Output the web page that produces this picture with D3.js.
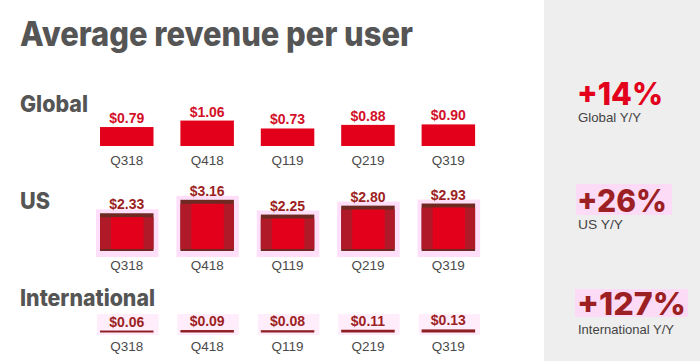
<!DOCTYPE html>
<html>
<head>
<meta charset="utf-8">
<script src="https://cdn.jsdelivr.net/npm/d3@7"></script>
<style>
  html, body { margin: 0; padding: 0; background: #fff; }
  svg { display: block; font-family: "Liberation Sans", Arial, sans-serif; }
  .heavy { font-family: Inter, "Liberation Sans", Arial, sans-serif; font-weight: 800; }
</style>
</head>
<body>
<svg id="chart" width="700" height="361"></svg>
<script>
// ---- data ----
const categories = ["Q318", "Q418", "Q119", "Q219", "Q319"];
const globalValues = [0.79, 1.06, 0.73, 0.88, 0.90];
const usValues = [2.33, 3.16, 2.25, 2.80, 2.93];
const intlValues = [0.06, 0.09, 0.08, 0.11, 0.13];
const rowNames = ["Global", "US", "International"];
const yoyValues = ["+14%", "+26%", "+127%"];
const yoyLabels = ["Global Y/Y", "US Y/Y", "International Y/Y"];
const titleText = "Average revenue per user";

// ---- layout ----
const svg = d3.select("#chart");
const W = 700, H = 361;
const RED = "#e3001b", DARK = "#9c1f24", GREY = "#555", PINK = "#ffd6f7";

svg.append("rect").attr("x", 544).attr("y", 0).attr("width", W - 544).attr("height", H).attr("fill", "#eeeeee");

svg.append("text").attr("class", "heavy").attr("x", 20).attr("y", 45.5).text(titleText)
  .attr("font-size", 34).attr("fill", GREY)
  .attr("textLength", 393).attr("lengthAdjust", "spacingAndGlyphs");

const x = d3.scaleBand().domain(categories).range([73.1, 502]).paddingInner(0.3346).paddingOuter(0.3346);

const rows = [
  { name: rowNames[0], values: globalValues, base: 146, pxPer: 24, labelY: 112, labelW: 68, style: "plain" },
  { name: rowNames[1], values: usValues, base: 251, pxPer: 16.2, labelY: 209, labelW: 30, style: "us" },
  { name: rowNames[2], values: intlValues, base: 332, pxPer: 16, labelY: 305.5, labelW: 135, style: "intl" }
];

rows.forEach(row => {
  const y = d3.scaleLinear().domain([0, 1]).range([row.base, row.base - row.pxPer]);
  const g = svg.append("g");
  g.append("text").attr("class", "heavy").attr("x", 20).attr("y", row.labelY).text(row.name)
    .attr("font-size", 23).attr("fill", GREY)
    .attr("textLength", row.labelW).attr("lengthAdjust", "spacingAndGlyphs");

  const data = categories.map((c, i) => ({ c, v: row.values[i] }));
  const bw = x.bandwidth();

  if (row.style === "us") {
    g.selectAll(".halo").data(data).join("rect")
      .attr("x", d => x(d.c) - 4).attr("y", d => y(d.v) - 4)
      .attr("width", bw + 9).attr("height", d => row.base - y(d.v) + 10)
      .attr("fill", PINK).attr("opacity", 0.8);
    g.selectAll(".outer").data(data).join("rect")
      .attr("x", d => x(d.c)).attr("y", d => y(d.v))
      .attr("width", bw).attr("height", d => row.base - y(d.v))
      .attr("fill", "#6e2a22");
    g.selectAll(".side").data(data).join("rect")
      .attr("x", d => x(d.c)).attr("y", d => y(d.v) + 4)
      .attr("width", bw).attr("height", d => row.base - y(d.v) - 6)
      .attr("fill", "#b01a28");
    g.selectAll(".inner").data(data).join("rect")
      .attr("x", d => x(d.c) + 11).attr("y", d => y(d.v) + 4)
      .attr("width", bw - 21).attr("height", d => row.base - y(d.v) - 6)
      .attr("fill", RED);
  } else if (row.style === "intl") {
    g.selectAll(".halo").data(data).join("rect")
      .attr("x", d => x(d.c) - 3).attr("y", 314)
      .attr("width", bw + 8).attr("height", 21)
      .attr("fill", PINK).attr("opacity", 0.45);
    g.selectAll(".bar").data(data).join("rect")
      .attr("x", d => x(d.c)).attr("y", d => y(d.v) - 0.5)
      .attr("width", bw).attr("height", d => row.base - y(d.v) + 1)
      .attr("fill", "#8e1f22");
  } else {
    g.selectAll(".bar").data(data).join("rect")
      .attr("x", d => x(d.c)).attr("y", d => y(d.v))
      .attr("width", bw).attr("height", d => row.base - y(d.v))
      .attr("fill", RED);
  }

  g.selectAll(".val").data(data).join("text")
    .attr("x", d => x(d.c) + bw / 2).attr("y", d => y(d.v) - 4 - (row.style === "intl" ? 0.5 : 0))
    .attr("text-anchor", "middle").attr("font-size", 14).attr("font-weight", "bold")
    .attr("fill", row.style === "plain" ? "#d3102a" : DARK)
    .text(d => "$" + d.v.toFixed(2));

  g.selectAll(".cat").data(data).join("text")
    .attr("x", d => x(d.c) + bw / 2).attr("y", row.base + 18.5)
    .attr("text-anchor", "middle").attr("font-size", 13.5).attr("fill", "#4a4a4a")
    .text(d => d.c);
});

// ---- right panel ----
const yoy = [
  { big: yoyValues[0], small: yoyLabels[0], by: 104.5, sy: 122, bw: 86, sw: 63, color: RED, hl: null },
  { big: yoyValues[1], small: yoyLabels[1], by: 211.5, sy: 229, bw: 90, sw: 45, color: DARK, hl: [576, 184, 96, 31] },
  { big: yoyValues[2], small: yoyLabels[2], by: 314.5, sy: 334, bw: 109, sw: 96, color: DARK, hl: [575, 289, 113, 28] }
];
yoy.forEach(d => {
  if (d.hl) {
    svg.append("rect").attr("x", d.hl[0]).attr("y", d.hl[1]).attr("width", d.hl[2]).attr("height", d.hl[3])
      .attr("fill", PINK).attr("opacity", 0.8);
  }
  svg.append("text").attr("class", "heavy").attr("x", 577).attr("y", d.by).text(d.big)
    .attr("font-size", 31).attr("fill", d.color)
    .attr("textLength", d.bw).attr("lengthAdjust", "spacingAndGlyphs");
  svg.append("text").attr("x", 578).attr("y", d.sy).text(d.small)
    .attr("font-size", 13).attr("fill", "#444")
    .attr("textLength", d.sw).attr("lengthAdjust", "spacingAndGlyphs");
});
</script>
</body>
</html>
